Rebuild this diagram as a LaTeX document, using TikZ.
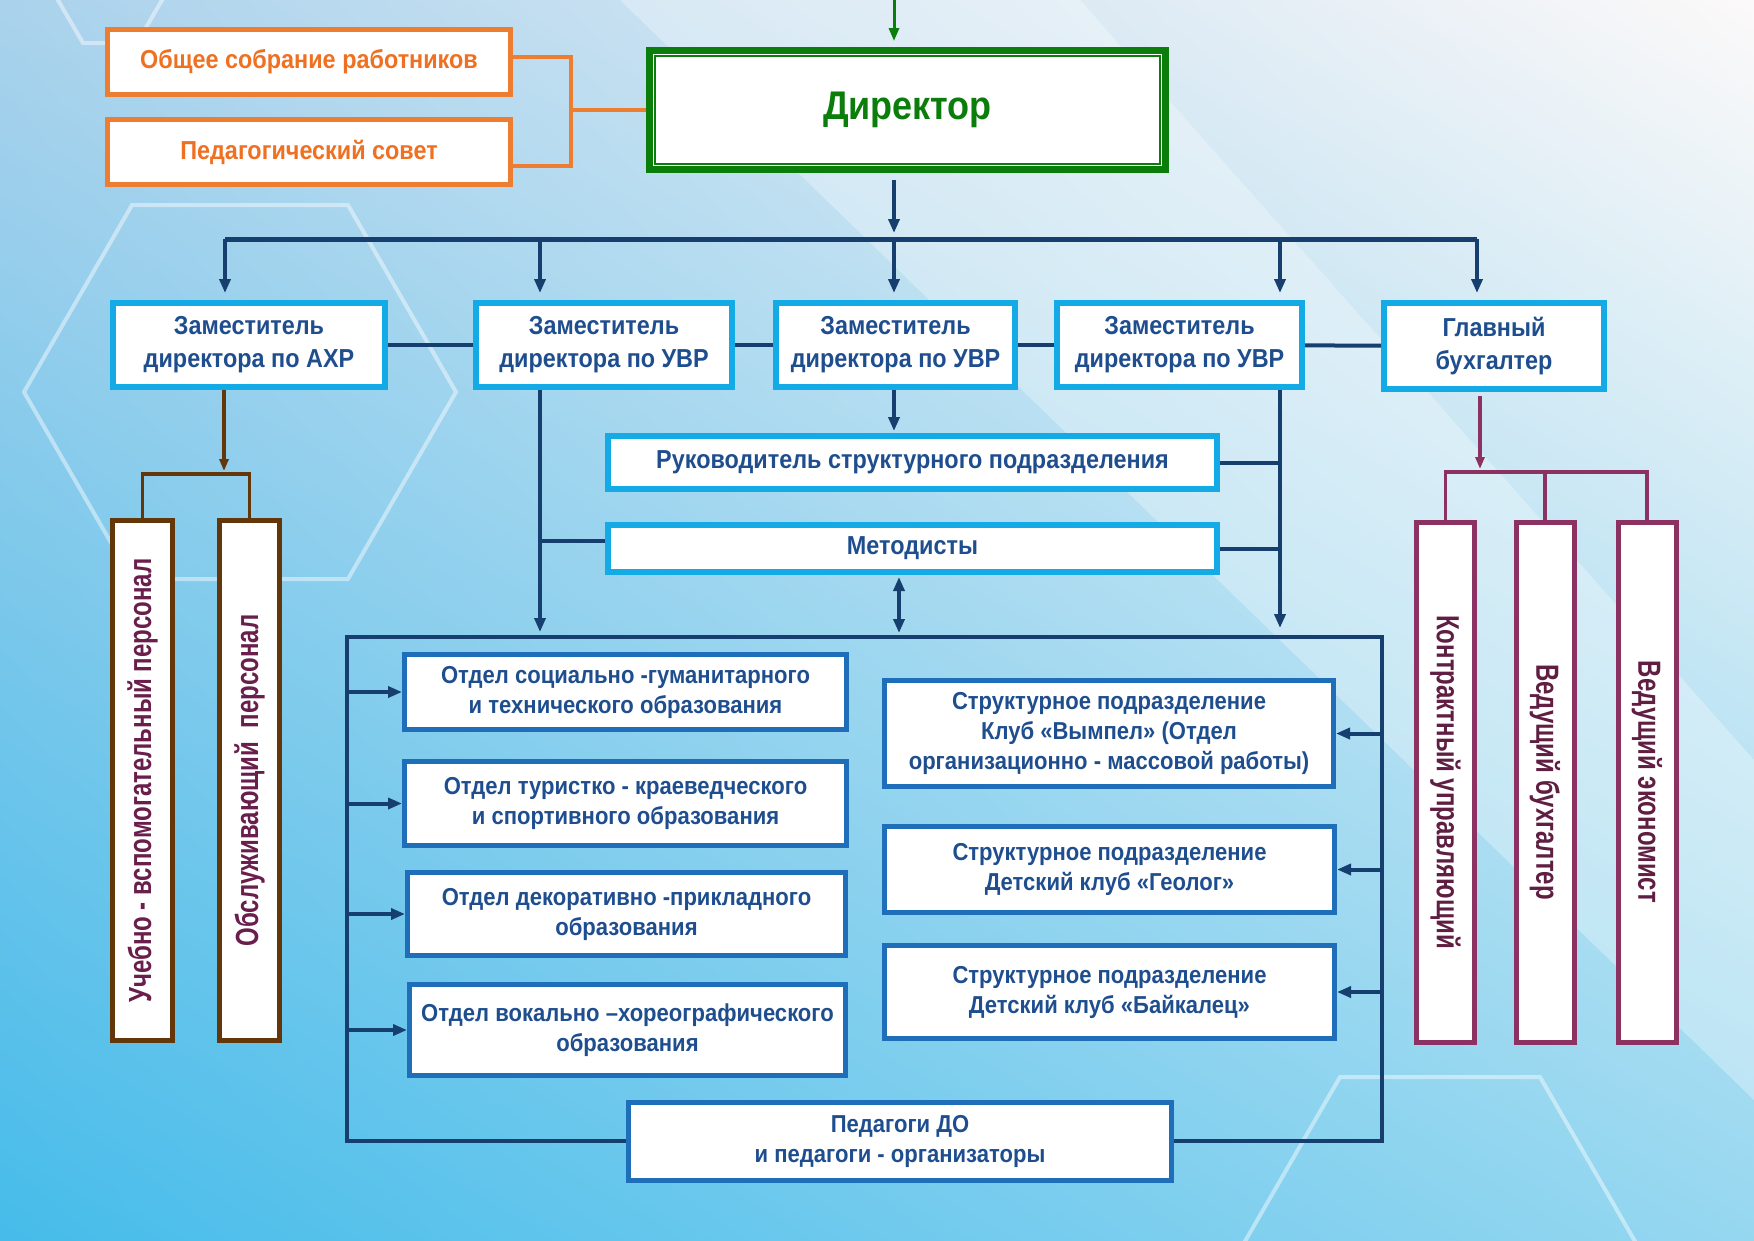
\documentclass[tikz,border=0pt]{standalone}
\usepackage{fontspec}
\setmainfont{Liberation Sans}
\newfontfamily\boxfont[FakeStretch=0.9]{Liberation Sans}
\newfontfamily\tallfont[FakeStretch=0.75]{Liberation Sans}
\usepackage{graphicx}
\usetikzlibrary{arrows.meta, shadings}

\definecolor{txtblue}{RGB}{31,78,143}
\definecolor{cyanline}{RGB}{20,170,230}
\definecolor{midblue}{RGB}{30,110,185}
\definecolor{navy}{RGB}{22,62,110}
\definecolor{orline}{RGB}{237,125,49}
\definecolor{ortext}{RGB}{240,112,34}
\definecolor{dirgreen}{RGB}{10,125,10}
\definecolor{brline}{RGB}{100,55,10}
\definecolor{brtext}{RGB}{105,30,75}
\definecolor{plline}{RGB}{140,50,98}
\definecolor{pltext}{RGB}{95,30,66}
\definecolor{bgtl}{RGB}{170,210,236}
\definecolor{bgtr}{RGB}{252,249,249}
\definecolor{bgbl}{RGB}{70,188,234}
\definecolor{bgbr}{RGB}{150,215,240}

\begin{document}
\begin{tikzpicture}[x=1pt, y=-1pt,
    base/.style={draw, fill=white, align=center, inner sep=0pt},
    zam/.style={base, draw=cyanline, line width=6pt, text=txtblue,
        font={\boxfont\bfseries\fontsize{26}{33}\selectfont}},
    otd/.style={base, draw=midblue, line width=5pt, text=txtblue,
        font={\boxfont\bfseries\fontsize{24.5}{30}\selectfont}},
    sov/.style={base, draw=orline, line width=5pt, text=ortext,
        font={\boxfont\bfseries\fontsize{26}{33}\selectfont}},
    vert/.style={base, line width=5pt, minimum width=60pt, minimum height=520pt,
        font={\tallfont\bfseries\fontsize{32}{36}\selectfont}},
    stv/.style={vert, draw=brline, text=brtext},
    plv/.style={vert, draw=plline, text=pltext},
    ln/.style={navy, line width=4pt},
    arr/.style={ln, -{Triangle[length=14pt,width=11pt]}},
    dbl/.style={ln, {Triangle[length=14pt,width=11pt]}-{Triangle[length=14pt,width=11pt]}},
    orln/.style={orline, line width=3.5pt},
    brln/.style={brline, line width=3.5pt},
    plln/.style={plline, line width=3.5pt},
    hexln/.style={white, opacity=0.45, line width=4pt}]

    \useasboundingbox (0,0) rectangle (1754,1240);

    % background
    \begin{scope}
        \clip (0,0) rectangle (1754,1240);
        \shade[upper left=bgtl, upper right=bgtr, lower left=bgbl, lower right=bgbr]
            (0,0) rectangle (1754,1240);
        \fill[white, opacity=0.3] (620,0) -- (1080,0) -- (1754,760) -- (1754,1100) -- cycle;
        \draw[hexln] (456,392) -- (348,205) -- (132,205) -- (24,392) -- (132,579) -- (348,579) -- cycle;
        \draw[hexln] (165,-5) -- (137,-53) -- (83,-53) -- (55,-5) -- (83,43) -- (137,43) -- cycle;
        \draw[hexln] (1640,1250) -- (1540,1077) -- (1340,1077) -- (1240,1250);
    \end{scope}

    % outer frame of the departments
    \node[draw=navy, line width=4pt, minimum width=1035pt, minimum height=504pt] (frame) at (864.5,889) {};

    % councils and director
    \node[sov, minimum width=403pt, minimum height=65pt] (sobr) at (309,62) {Общее собрание работников};
    \node[sov, minimum width=403pt, minimum height=65pt] (sov) at (309,152) {Педагогический совет};
    \node[base, draw=dirgreen, line width=7pt, minimum width=516pt, minimum height=119pt,
        text=dirgreen, font={\boxfont\bfseries\fontsize{40}{44}\selectfont}] (dir) at (907.5,110) {Директор};
    \draw[dirgreen, line width=2.2pt] ([shift={(9pt,-9pt)}]dir.north west) rectangle ([shift={(-9pt,9pt)}]dir.south east);

    % deputies
    \node[zam, minimum width=272pt, minimum height=84pt] (axr) at (249,345) {Заместитель\\директора по АХР};
    \node[zam, minimum width=256pt, minimum height=84pt] (uvr1) at (604,345) {Заместитель\\директора по УВР};
    \node[zam, minimum width=239pt, minimum height=84pt] (uvr2) at (895.5,345) {Заместитель\\директора по УВР};
    \node[zam, minimum width=245pt, minimum height=84pt] (uvr3) at (1179.5,345) {Заместитель\\директора по УВР};
    \node[zam, minimum width=220pt, minimum height=86pt] (glb) at (1494,346) {Главный\\бухгалтер};

    % middle column
    \node[zam, minimum width=609pt, minimum height=53pt] (ruk) at (912.5,462.5) {Руководитель структурного подразделения};
    \node[zam, minimum width=609pt, minimum height=47pt] (met) at (912.5,548.5) {Методисты};

    % departments
    \node[otd, minimum width=442pt, minimum height=75pt] (o1) at (625.5,692) {Отдел социально -гуманитарного\\и технического образования};
    \node[otd, minimum width=442pt, minimum height=84pt] (o2) at (625.5,803.5) {Отдел туристко - краеведческого\\и спортивного образования};
    \node[otd, minimum width=438pt, minimum height=83pt] (o3) at (626.5,914) {Отдел декоративно -прикладного\\образования};
    \node[otd, minimum width=436pt, minimum height=91pt] (o4) at (627.5,1030) {Отдел вокально –хореографического\\образования};
    \node[otd, minimum width=449pt, minimum height=106pt] (v1) at (1109,733.5) {Структурное подразделение\\Клуб «Вымпел» (Отдел\\организационно - массовой работы)};
    \node[otd, minimum width=450pt, minimum height=86pt] (v2) at (1109.5,869.5) {Структурное подразделение\\Детский клуб «Геолог»};
    \node[otd, minimum width=450pt, minimum height=93pt] (v3) at (1109.5,992) {Структурное подразделение\\Детский клуб «Байкалец»};
    \node[otd, minimum width=543pt, minimum height=78pt] (pdo) at (900,1141.5) {Педагоги ДО\\и педагоги - организаторы};

    % staff columns
    \node[stv] (st1) at (142.5,780.5) {\rotatebox{90}{Учебно - вспомогательный персонал}};
    \node[stv] (st2) at (249.5,780.5) {\rotatebox{90}{Обслуживающий\ \ персонал}};
    \node[plv, minimum width=58pt] (p1) at (1445.5,782) {\rotatebox{-90}{Контрактный управляющий}};
    \node[plv, minimum width=58pt] (p2) at (1545,782) {\rotatebox{-90}{Ведущий бухгалтер}};
    \node[plv, minimum width=58pt] (p3) at (1647,782) {\rotatebox{-90}{Ведущий экономист}};

    % links to director
    \coordinate (in) at (894,0);
    \draw[dirgreen, line width=3pt, -{Triangle[length=13pt,width=10pt]}, shorten >=6pt] (in) -- (in |- dir.north);
    \coordinate (obr) at (571,110);
    \draw[orln] ([yshift=5pt]sobr.east) -| (obr) |- ([yshift=-14pt]sov.east);
    \draw[orln] (obr) -- (dir.west);

    % bus under the director
    \coordinate (b0) at (225,239);
    \coordinate (b1) at (540,239);
    \coordinate (b2) at (894,239);
    \coordinate (b3) at (1280,239);
    \coordinate (b4) at (1477,239);
    \draw[ln, line width=5pt] (b0) -- (b4);
    \draw[arr, shorten <=7pt, shorten >=6pt] (dir.south -| b2) -- (b2);
    \foreach \b/\n in {b0/axr, b1/uvr1, b2/uvr2, b3/uvr3, b4/glb}
        \draw[arr, shorten >=7pt] (\b) -- (\b |- \n.north);
    \draw[ln] (axr) -- (uvr1);
    \draw[ln] (uvr1) -- (uvr2);
    \draw[ln] (uvr2) -- (uvr3);
    \draw[ln] (uvr3) -- (glb);

    % AXP staff
    \coordinate (br) at (224,474);
    \draw[brln, -{Triangle[length=12pt,width=9pt]}, shorten >=3pt] (axr.south -| br) -- (br);
    \draw[brln] (st1.north) |- (br) -| (st2.north);

    % accounting staff
    \coordinate (pl) at (1480,472);
    \draw[plln, -{Triangle[length=12pt,width=9pt]}, shorten <=4pt, shorten >=3pt] (glb.south -| pl) -- (pl);
    \draw[plln] (p1.north) |- (pl) -| (p3.north);
    \draw[plln] (p2.north) -- (p2.north |- pl);

    % deputies to the middle column and the frame
    \coordinate (j1) at (540,541);
    \draw[arr, shorten >=3pt] (uvr1.south -| j1) -- (j1 |- frame.north);
    \draw[ln] (j1) -- (j1 -| met.west);
    \draw[arr, shorten >=2pt] (uvr2.south -| b2) -- (b2 |- ruk.north);
    \draw[arr, shorten >=7pt] (uvr3.south -| b3) -- (b3 |- frame.north);
    \draw[ln] (ruk.east) -- (ruk.east -| b3);
    \draw[ln] (met.east) -- (met.east -| b3);
    \coordinate (dm) at (899,600);
    \draw[dbl, shorten <=2pt, shorten >=2pt] (met.south -| dm) -- (frame.north -| dm);

    % frame to departments
    \foreach \n in {o1, o2, o3, o4}
        \draw[arr] (\n.west -| frame.west) -- (\n.west);
    \foreach \n in {v1, v2, v3}
        \draw[arr] (\n.east -| frame.east) -- (\n.east);
\end{tikzpicture}
\end{document}
